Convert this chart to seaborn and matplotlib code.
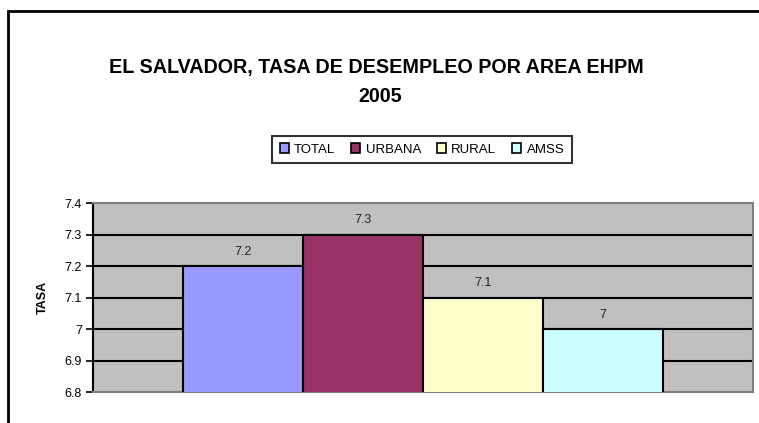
import pandas as pd
import matplotlib
matplotlib.use("Agg")
import matplotlib.pyplot as plt
import matplotlib.patches as mpatches
from matplotlib.ticker import FuncFormatter, MultipleLocator
import seaborn as sns

# datos EHPM 2005
periodo = ["2005"] * 4
areas = ["TOTAL", "URBANA", "RURAL", "AMSS"]
tasas = [7.2, 7.3, 7.1, 7.0]
colores = ["#9999FF", "#993366", "#FFFFCC", "#CCFFFF"]

sns.set_theme(style="white")
plt.rcParams['font.family'] = ['Liberation Sans', 'DejaVu Sans']
plt.rcParams['text.color'] = 'black'
plt.rcParams['axes.labelcolor'] = 'black'
plt.rcParams['ytick.color'] = 'black'

df = pd.DataFrame({"periodo": periodo, "area": areas, "tasa": tasas})

fig = plt.figure(figsize=(7.59, 4.23), dpi=100)
ax = fig.add_axes([93/759, 1 - 392/423, 660/759, 189/423])
ax.set_facecolor("#C0C0C0")

sns.barplot(data=df, x="periodo", y="tasa", hue="area", palette=colores,
            hue_order=areas, width=4/5.5, gap=0, edgecolor="black",
            linewidth=1.5, saturation=1, ax=ax, zorder=3)

ax.set_ylim(6.8, 7.4)
ax.set_xlim(-0.5, 0.5)
ax.yaxis.set_major_locator(MultipleLocator(0.1))
ax.yaxis.set_major_formatter(FuncFormatter(lambda v, p: f"{round(v, 1):g}"))
for v in [6.9, 7.0, 7.1, 7.2, 7.3]:
    ax.axhline(v, color="black", lw=1.5, zorder=1)

for c in ax.containers:
    ax.bar_label(c, fmt=lambda v: f"{v:g}", padding=6, fontsize=9, color="#222222")

ax.set_xticks([])
ax.set_xlabel("")
ax.set_ylabel("TASA", fontsize=9, fontweight="black", labelpad=11)
ax.tick_params(axis="y", left=True, length=5, width=1.2, color="black",
               labelsize=9, pad=3)
for s in ["top", "right", "bottom"]:
    ax.spines[s].set_color("#808080")
    ax.spines[s].set_linewidth(1.5)
ax.spines["left"].set_color("black")
ax.spines["left"].set_linewidth(1.5)

handles = [mpatches.Patch(facecolor=c, edgecolor="black", lw=1.2) for c in colores]
leg = ax.legend(handles, areas, ncol=4, loc="center",
                bbox_to_anchor=(422/759, 1 - 149.5/423),
                bbox_transform=fig.transFigure, fontsize=9.5, frameon=True,
                fancybox=False, handlelength=0.7, handleheight=0.7,
                handletextpad=0.4, columnspacing=1.2, borderpad=0.55)
leg.get_frame().set_edgecolor("black")
leg.get_frame().set_linewidth(1.5)

fig.text(376/759, 1 - 68/423, "EL SALVADOR, TASA DE DESEMPLEO POR AREA EHPM",
         ha="center", va="center", fontsize=14.2, fontweight="bold")
fig.text(380/759, 1 - 97/423, "2005", ha="center", va="center",
         fontsize=14.2, fontweight="bold")

frame = mpatches.Rectangle((8/759, -0.1), 1.0, 1.1 - 11/423,
                           transform=fig.transFigure, fill=False,
                           edgecolor="black", lw=2, clip_on=False)
fig.patches.append(frame)

fig.savefig("out.png", dpi=100)
